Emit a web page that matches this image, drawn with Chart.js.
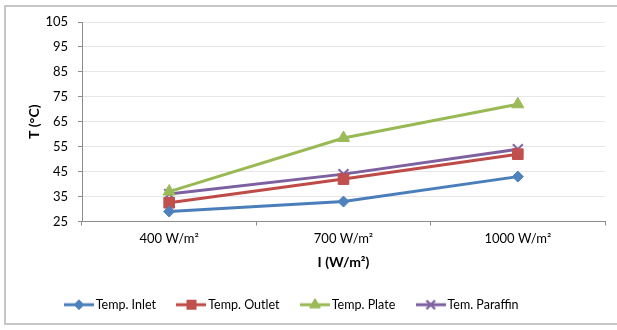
<!DOCTYPE html>
<html>
<head>
<meta charset="utf-8">
<script src="https://cdn.jsdelivr.net/npm/chart.js@4/dist/chart.umd.min.js"></script>
<style>
  html, body { margin: 0; padding: 0; background: #fff; }
  #wrap { position: relative; width: 617px; height: 330px; overflow: hidden; }
  #frame { position: absolute; left: 4px; top: 5px; width: 660px; height: 320px;
           border: 2px solid #c6c6c6; box-sizing: border-box; pointer-events: none; }
  canvas { position: absolute; left: 0; top: 0; }
</style>
</head>
<body>
<div id="wrap">
  <canvas id="c" width="617" height="330"></canvas>
  <div id="frame"></div>
</div>
<script>
// Irradiance levels and measured temperatures (°C)
const categories = ['400 W/m²', '700 W/m²', '1000 W/m²'];
const tempInlet = [29, 33, 43];
const tempOutlet = [32.5, 42, 52];
const tempPlate = [37, 58.5, 72];
const tempParaffin = [36, 44, 54];
const yMin = 25, yMax = 105, yStep = 10;

const FONT = 'Lato, "Open Sans", sans-serif';

const series = [
  { label: 'Temp. Inlet',   data: tempInlet,    line: '#4A7EBB', fill: '#4F81BD', style: 'rectRot',  radius: 5.5, bw: 1 },
  { label: 'Temp. Outlet',  data: tempOutlet,   line: '#BE4B48', fill: '#C0504D', style: 'rect',     radius: 7.5, bw: 1 },
  { label: 'Temp. Plate',   data: tempPlate,    line: '#98B954', fill: '#9BBB59', style: 'triangle', radius: 7,   bw: 1 },
  { label: 'Tem. Paraffin', data: tempParaffin, line: '#7D60A0', fill: '#8064A2', style: 'crossRot', radius: 7,   bw: 2 }
];

// Small legend swatch: line segment with the series marker in the middle
function swatch(s) {
  const cv = document.createElement('canvas');
  cv.width = 30; cv.height = 16;
  const ctx = cv.getContext('2d');
  ctx.strokeStyle = s.line; ctx.lineWidth = 3;
  ctx.beginPath(); ctx.moveTo(0, 8); ctx.lineTo(30, 8); ctx.stroke();
  ctx.fillStyle = s.fill; ctx.strokeStyle = s.fill; ctx.lineWidth = s.bw;
  Chart.helpers.drawPoint(ctx, { pointStyle: s.style, radius: s.radius * 0.85, borderWidth: s.bw }, 15, 8);
  if (s.style !== 'crossRot') ctx.fill();
  ctx.stroke();
  return cv;
}

const datasets = series.map(s => ({
  label: s.label,
  data: s.data,
  borderColor: s.line,
  backgroundColor: s.fill,
  borderWidth: 3,
  pointStyle: s.style,
  pointRadius: s.radius,
  pointBorderWidth: s.bw,
  pointBorderColor: s.fill,
  pointBackgroundColor: s.fill,
  tension: 0
}));

const swatches = series.map(swatch);

new Chart(document.getElementById('c'), {
  type: 'line',
  data: { labels: categories, datasets },
  options: {
    responsive: false,
    animation: false,
    devicePixelRatio: 1,
    layout: { padding: { left: -18, right: 12, top: 22, bottom: 9 } },
    plugins: {
      tooltip: { enabled: false },
      legend: {
        position: 'bottom',
        labels: {
          usePointStyle: true,
          pointStyleWidth: 21,
          padding: 25,
          color: '#000',
          font: { family: FONT, size: 12.5 },
          generateLabels: chart => chart.data.datasets.map((d, i) => ({
            text: d.label,
            pointStyle: swatches[i],
            fillStyle: d.backgroundColor,
            strokeStyle: d.borderColor,
            lineWidth: 0,
            datasetIndex: i,
            hidden: false
          }))
        }
      }
    },
    scales: {
      x: {
        type: 'category',
        offset: true,
        grid: { offset: true, drawOnChartArea: false, drawTicks: true, tickLength: 4, tickColor: '#8c8c8c' },
        border: { color: '#8c8c8c', width: 1 },
        ticks: { color: '#000', font: { family: FONT, size: 13 }, padding: 6, maxRotation: 0 },
        title: { display: true, text: 'I (W/m²)', color: '#000',
                 font: { family: FONT, size: 14, weight: 'bold' }, padding: { top: 0, bottom: 2.6 } },
        afterFit: s => { s.height = 52; }
      },
      y: {
        min: yMin, max: yMax,
        grid: { color: '#e6e6e6', lineWidth: 1, tickLength: 4, tickColor: '#8c8c8c' },
        border: { color: '#8c8c8c', width: 1 },
        ticks: { stepSize: yStep, color: '#000', font: { family: FONT, size: 13 }, padding: 10 },
        title: { display: true, text: 'T (°C)', color: '#000',
                 font: { family: FONT, size: 14, weight: 'bold' }, padding: { top: 43.6, bottom: 0 } },
        afterFit: s => { s.width = 100; }
      }
    }
  }
});
</script>
</body>
</html>
